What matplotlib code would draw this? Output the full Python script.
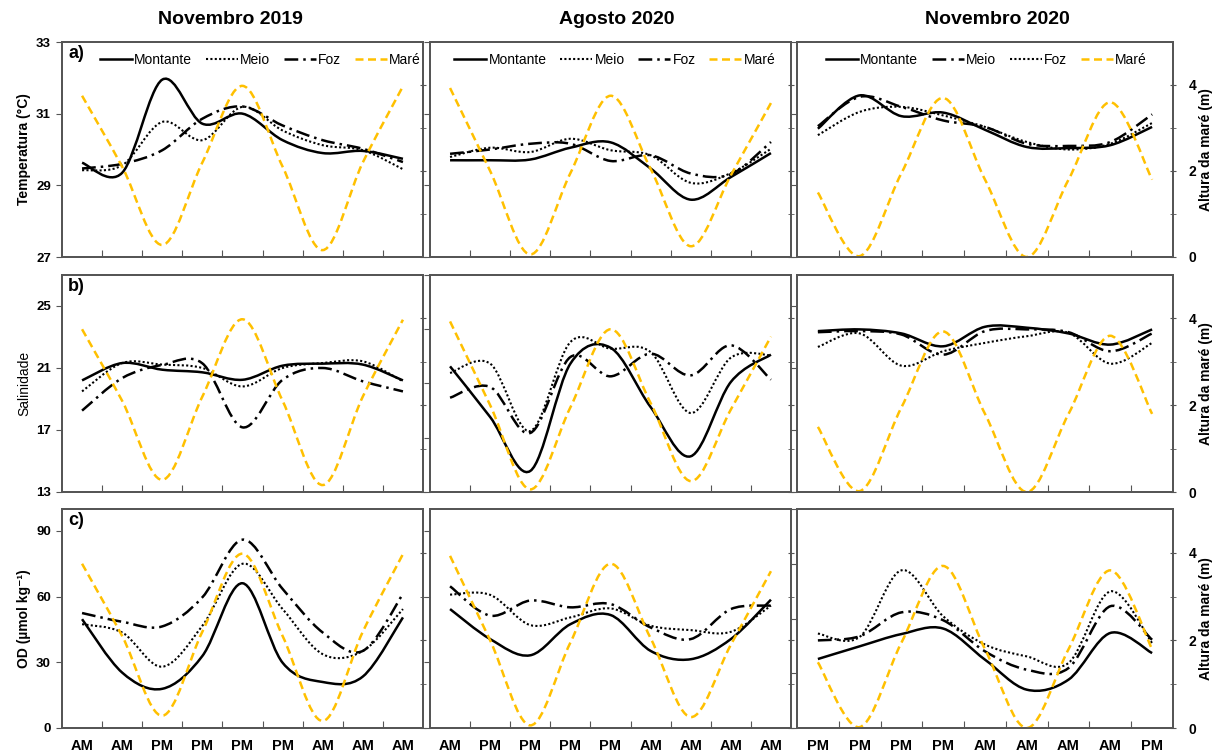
import numpy as np
import matplotlib.pyplot as plt
from matplotlib.path import Path
from matplotlib.patches import PathPatch
from matplotlib.lines import Line2D

plt.rcParams['font.family'] = ['Liberation Sans', 'DejaVu Sans']

# ---- dados ----
meses = ['Novembro 2019', 'Agosto 2020', 'Novembro 2020']
periodo = [['AM', 'AM', 'PM', 'PM', 'PM', 'PM', 'AM', 'AM', 'AM'],
           ['AM', 'PM', 'PM', 'PM', 'PM', 'AM', 'AM', 'AM', 'AM'],
           ['PM', 'PM', 'PM', 'PM', 'AM', 'AM', 'AM', 'AM', 'PM']]

mare = [[3.75, 2.1, 0.28, 2.2, 3.98, 2.1, 0.16, 2.2, 3.97],
        [3.93, 2.0, 0.06, 1.95, 3.75, 2.05, 0.25, 1.9, 3.58],
        [1.5, 0.02, 1.95, 3.7, 1.8, 0.0, 1.8, 3.6, 1.8]]

temp_montante = [[29.63, 29.35, 31.95, 30.72, 31.0, 30.26, 29.9, 29.96, 29.74],
                 [29.7, 29.7, 29.72, 30.05, 30.2, 29.47, 28.6, 29.23, 29.9],
                 [30.58, 31.51, 30.93, 31.03, 30.55, 30.07, 30.04, 30.12, 30.63]]
temp_meio = [[29.42, 29.56, 30.77, 30.26, 31.19, 30.53, 30.12, 29.98, 29.45],
             [29.79, 30.05, 29.93, 30.3, 29.98, 29.84, 29.07, 29.34, 30.02],
             [30.65, 31.47, 31.19, 30.81, 30.63, 30.16, 30.1, 30.21, 30.98]]
temp_foz = [[29.47, 29.6, 29.98, 30.86, 31.2, 30.67, 30.26, 30.02, 29.65],
            [29.88, 30.0, 30.16, 30.16, 29.68, 29.84, 29.33, 29.31, 30.21],
            [30.4, 31.05, 31.19, 30.95, 30.63, 30.21, 30.0, 30.16, 30.74]]

sal_montante = [[20.2, 21.32, 20.89, 20.72, 20.24, 21.15, 21.28, 21.22, 20.2],
                [21.58, 16.91, 11.94, 21.83, 23.3, 17.83, 13.29, 20.14, 22.66],
                [23.38, 23.49, 23.23, 22.4, 23.66, 23.6, 23.23, 22.51, 23.49]]
sal_meio = [[19.49, 21.32, 21.22, 21.0, 19.81, 21.0, 21.32, 21.43, 20.14],
            [20.97, 21.83, 15.62, 23.82, 23.21, 22.9, 17.28, 22.38, 22.6],
            [23.31, 23.38, 23.16, 21.86, 23.38, 23.49, 23.31, 22.08, 23.23]]
sal_foz = [[18.25, 20.35, 21.2, 21.3, 17.17, 20.24, 21.0, 20.14, 19.49],
           [18.69, 19.68, 15.44, 22.44, 20.66, 22.75, 20.75, 23.52, 20.35],
           [22.36, 23.23, 21.15, 22.08, 22.62, 23.05, 23.27, 21.28, 22.62]]

od_montante = [[49.7, 25.3, 17.9, 32.9, 66.1, 29.8, 21.0, 23.5, 50.5],
               [54.3, 40.6, 33.2, 47.4, 51.6, 35.2, 31.4, 40.6, 58.6],
               [31.5, 37.3, 42.9, 45.4, 31.2, 17.5, 22.1, 43.4, 34.2]]
od_meio = [[47.4, 43.6, 28.0, 46.7, 75.0, 54.3, 33.7, 35.2, 54.3],
           [60.9, 60.8, 47.0, 50.5, 54.6, 46.7, 44.7, 43.9, 55.9],
           [40.0, 41.9, 52.8, 49.2, 35.0, 26.6, 27.4, 55.6, 40.3]]
od_foz = [[52.5, 48.5, 46.4, 59.7, 86.0, 63.5, 43.6, 35.2, 61.2],
          [64.7, 51.3, 58.2, 55.1, 56.6, 45.9, 40.6, 54.3, 55.9],
          [43.1, 41.6, 72.0, 51.0, 38.1, 32.7, 29.7, 62.4, 38.8]]

# ---- estilos ----
spine_c = '#555555'
gold = '#FFC000'
st_solid = dict(color='black', lw=1.8, ls='-')
st_dot = dict(color='black', lw=1.5, ls=(0, (1, 1.1)))
st_dashdot = dict(color='black', lw=1.8, ls=(0, (5.5, 2, 1, 2)))
st_mare = dict(color=gold, lw=1.8, ls=(0, (3.2, 1.8)))

# Meio/Foz trocam de estilo em Novembro 2020
estilos = [(st_solid, st_dot, st_dashdot),
           (st_solid, st_dot, st_dashdot),
           (st_solid, st_dashdot, st_dot)]

variaveis = [
    ('Temperatura (°C)', 'bold', temp_montante, temp_meio, temp_foz),
    ('Salinidade', 'normal', sal_montante, sal_meio, sal_foz),
    ('OD (µmol kg⁻¹)', 'bold', od_montante, od_meio, od_foz),
]
limites = [[(27, 33, [27, 29, 31, 33])] * 3,
           [(13, 27, [13, 17, 21, 25]), (10, 30, [10, 15, 20, 25, 30]), (13, 27, [13, 17, 21, 25])],
           [(0, 100, [0, 30, 60, 90]), (0, 100, [0, 30, 60, 90]), (0, 100, [0, 25, 50, 75, 100])]]
letras = ['a)', 'b)', 'c)']


def curva(ax, y, color, lw, ls):
    # linha suavizada tipo Excel (Bezier / Catmull-Rom)
    x = np.arange(len(y), dtype=float)
    p = np.column_stack([x, np.asarray(y, dtype=float)])
    e = np.vstack([p[0], p, p[-1]])
    verts = [p[0]]
    codes = [Path.MOVETO]
    for i in range(len(p) - 1):
        c1 = e[i + 1] + (e[i + 2] - e[i]) / 6
        c2 = e[i + 2] - (e[i + 3] - e[i + 1]) / 6
        verts += [c1, c2, p[i + 1]]
        codes += [Path.CURVE4] * 3
    ax.add_patch(PathPatch(Path(verts, codes), fill=False, edgecolor=color,
                           lw=lw, ls=ls, capstyle='butt'))


W, H = 1225, 753
cols = [(62, 423), (430, 791), (797, 1173)]
rows = [(42, 257), (275, 492), (509, 728)]

fig = plt.figure(figsize=(W / 100, H / 100), dpi=100)

for r, (ylab, peso, montante, meio, foz) in enumerate(variaveis):
    for c in range(3):
        x0, x1 = cols[c]
        y0, y1 = rows[r]
        ax = fig.add_axes([x0 / W, 1 - y1 / H, (x1 - x0) / W, (y1 - y0) / H])
        ax2 = ax.twinx()

        sm, sme, sf = estilos[c]
        curva(ax, montante[c], **sm)
        curva(ax, meio[c], **sme)
        curva(ax, foz[c], **sf)
        curva(ax2, mare[c], **st_mare)

        lo, hi, ticks = limites[r][c]
        ax.set_ylim(lo, hi)
        ax.set_yticks(ticks)
        ax2.set_ylim(0, 5)
        ax2.set_yticks([0, 2, 4])
        ax2.set_yticks([1, 3], minor=True)
        ax.set_xlim(-0.5, 8.5)
        ax.set_xticks(np.arange(0.5, 8, 1))
        ax.set_xticks(np.arange(9), minor=True)
        ax.tick_params(axis='x', which='major', direction='in', length=5,
                       color=spine_c, labelbottom=False)
        ax.tick_params(axis='x', which='minor', length=0, pad=8)
        if r == 2:
            ax.set_xticklabels(periodo[c], minor=True, fontsize=10.5, fontweight='bold')
        else:
            ax.tick_params(axis='x', which='minor', labelbottom=False)

        ax.tick_params(axis='y', direction='out', length=4, color=spine_c,
                       labelsize=9.5, pad=4, labelleft=(c == 0))
        if c == 0:
            for t in ax.get_yticklabels():
                t.set_fontweight('bold')
            ax.set_ylabel(ylab, fontsize=10, fontweight=peso)
            ax.yaxis.set_label_coords(-0.085, 0.5)
            ax.text(0.017, 0.985, letras[r], transform=ax.transAxes,
                    fontsize=13, fontweight='bold', ha='left', va='top')

        ax2.tick_params(axis='y', which='both', direction='inout', length=5,
                        color=spine_c, labelsize=10, pad=9, labelright=(c == 2))
        if c == 2:
            for t in ax2.get_yticklabels():
                t.set_fontweight('bold')
            ax2.set_ylabel('Altura da maré (m)', fontsize=10, fontweight='bold')
            ax2.yaxis.set_label_coords(1.07, 0.5)

        for a in (ax, ax2):
            for s in a.spines.values():
                s.set_color(spine_c)
                s.set_linewidth(1.3)

        if r == 0:
            nomes = ['Montante', 'Meio', 'Foz', 'Maré']
            handles = [Line2D([], [], **sm), Line2D([], [], **sme),
                       Line2D([], [], **sf), Line2D([], [], **st_mare)]
            cx = [0.55, 0.512, 0.503][c]
            ax2.legend(handles, nomes, loc='center', bbox_to_anchor=(cx, 0.915),
                       ncol=4, frameon=False, fontsize=10, handlelength=2.3,
                       handletextpad=0.15, columnspacing=1.0, borderpad=0)

# títulos das colunas
for x, m in zip([230, 617, 997], meses):
    fig.text(x / W, 1 - 20 / H, m, ha='center', va='center',
             fontsize=14, fontweight='bold')

plt.savefig('out.png', dpi=100)
